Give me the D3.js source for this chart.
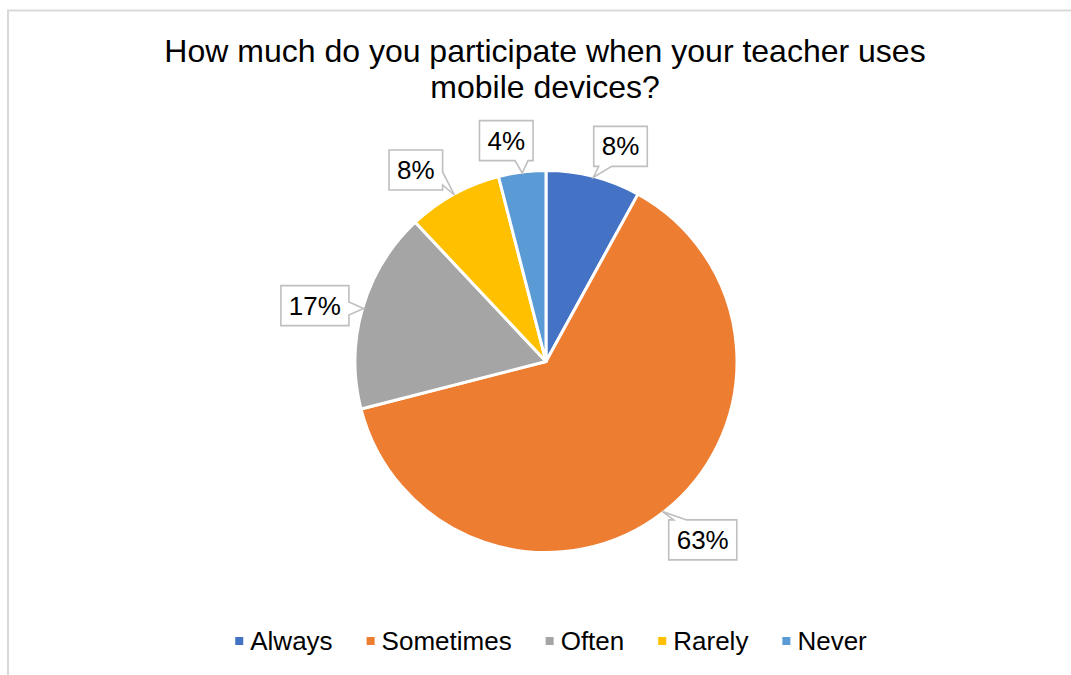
<!DOCTYPE html>
<html>
<head>
<meta charset="utf-8">
<script src="https://cdn.jsdelivr.net/npm/d3@7"></script>
<style>
  html, body { margin: 0; padding: 0; background: #fff; }
  svg { display: block; font-family: "Liberation Sans", Arial, sans-serif; }
</style>
</head>
<body>
<svg id="chart" width="1071" height="675"></svg>
<script>
// Survey answers (share of respondents, %)
const categories = ["Always", "Sometimes", "Often", "Rarely", "Never"];
const values = [8, 63, 17, 8, 4];
const colors = ["#4472C4", "#ED7D31", "#A5A5A5", "#FFC000", "#5B9BD5"];
const titleLines = ["How much do you participate when your teacher uses", "mobile devices?"];

const W = 1071, H = 675;
const svg = d3.select("#chart");

// Chart area frame (only top/left edges fall inside the view)
svg.append("rect")
  .attr("x", 8).attr("y", 10.5)
  .attr("width", W + 20).attr("height", H + 20)
  .attr("fill", "#fff")
  .attr("stroke", "#d9d9d9").attr("stroke-width", 2);

// Title
const title = svg.append("text")
  .attr("text-anchor", "middle")
  .attr("font-size", 32)
  .attr("fill", "#000");
titleLines.forEach((t, i) => {
  title.append("tspan")
    .attr("x", 545)
    .attr("y", 62 + i * 36)
    .text(t);
});

// Pie
const cx = 546, cy = 361.5, r = 191;
const g = svg.append("g").attr("transform", `translate(${cx},${cy})`);

const data = categories.map((c, i) => ({ cat: c, value: values[i], color: colors[i] }));
const pie = d3.pie().value(d => d.value).sort(null);
const arcs = pie(data);
const arc = d3.arc().innerRadius(0).outerRadius(r);

g.selectAll("path.slice")
  .data(arcs)
  .join("path")
  .attr("class", "slice")
  .attr("d", arc)
  .attr("fill", d => d.data.color)
  .attr("stroke", "#fff")
  .attr("stroke-width", 3)
  .attr("stroke-linejoin", "round");

// Callout data labels, placed just outside each slice's mid-angle
// (small angular shifts keep the boxes clear of each other)
const labelShiftDeg = [4.7, -3.5, -2.6, -5.4, -3.0];
const labelSize = 26;
const gap = 9;            // clearance between pie edge and callout box
const padX = 8, boxH = 40;
const wedgeW = 13;

const lg = svg.append("g");
arcs.forEach((a, i) => {
  const mid = (a.startAngle + a.endAngle) / 2;
  const pos = mid + labelShiftDeg[i] * Math.PI / 180;
  const px = Math.sin(pos), py = -Math.cos(pos);
  const txt = d3.format(".0f")(a.data.value) + "%";

  const t = lg.append("text")
    .attr("font-size", labelSize)
    .attr("text-anchor", "middle")
    .attr("fill", "#000")
    .text(txt);
  const tw = t.node().getComputedTextLength();
  const bw = tw + 2 * padX, bh = boxH;
  const ext = Math.abs(px) * bw / 2 + Math.abs(py) * bh / 2;
  const dist = r + gap + ext;
  const bx = cx + px * dist, by = cy + py * dist;
  t.attr("x", bx).attr("y", by + labelSize * 0.35);

  // pointer tip on the slice's outer edge at its mid-angle
  const tx = cx + Math.sin(mid) * (r - 1), ty = cy - Math.cos(mid) * (r - 1);
  const x0 = bx - bw / 2, x1 = bx + bw / 2, y0 = by - bh / 2, y1 = by + bh / 2;
  const clamp = (v, lo, hi) => Math.max(lo, Math.min(hi, v));
  const rx = (tx - bx) / (bw / 2), ry = (ty - by) / (bh / 2);
  let p;
  if (Math.abs(rx) > Math.abs(ry)) {
    // pointer on left/right side
    const yc = clamp(ty, y0 + wedgeW / 2 + 5, y1 - wedgeW / 2 - 5);
    if (rx > 0) {
      p = [[x0, y0], [x1, y0], [x1, yc - wedgeW / 2], [tx, ty], [x1, yc + wedgeW / 2], [x1, y1], [x0, y1]];
    } else {
      p = [[x0, y0], [x1, y0], [x1, y1], [x0, y1], [x0, yc + wedgeW / 2], [tx, ty], [x0, yc - wedgeW / 2]];
    }
  } else {
    const xc = clamp(tx, x0 + wedgeW / 2 + 5, x1 - wedgeW / 2 - 5);
    if (ry > 0) {
      p = [[x0, y0], [x1, y0], [x1, y1], [xc + wedgeW / 2, y1], [tx, ty], [xc - wedgeW / 2, y1], [x0, y1]];
    } else {
      p = [[x0, y0], [xc - wedgeW / 2, y0], [tx, ty], [xc + wedgeW / 2, y0], [x1, y0], [x1, y1], [x0, y1]];
    }
  }
  lg.insert("path", "text")
    .attr("d", "M" + p.map(q => q.join(",")).join("L") + "Z")
    .attr("fill", "#fff")
    .attr("stroke", "#bfbfbf")
    .attr("stroke-width", 1.6)
    .attr("stroke-linejoin", "miter");
});
lg.raise();

// Legend
const legendSize = 26, sq = 8, sqGap = 7, itemGap = 34, legendY = 641;
const leg = svg.append("g");
let xPos = 0;
categories.forEach((c, i) => {
  const it = leg.append("g").attr("transform", `translate(${xPos},0)`);
  it.append("rect")
    .attr("x", 0).attr("y", legendY - sq / 2)
    .attr("width", sq).attr("height", sq)
    .attr("fill", colors[i]);
  const t = it.append("text")
    .attr("x", sq + sqGap)
    .attr("y", legendY + legendSize * 0.36)
    .attr("font-size", legendSize)
    .attr("fill", "#000")
    .text(c);
  xPos += sq + sqGap + t.node().getComputedTextLength() + itemGap;
});
const legendW = xPos - itemGap;
leg.attr("transform", `translate(${551 - legendW / 2},0)`);
</script>
</body>
</html>
